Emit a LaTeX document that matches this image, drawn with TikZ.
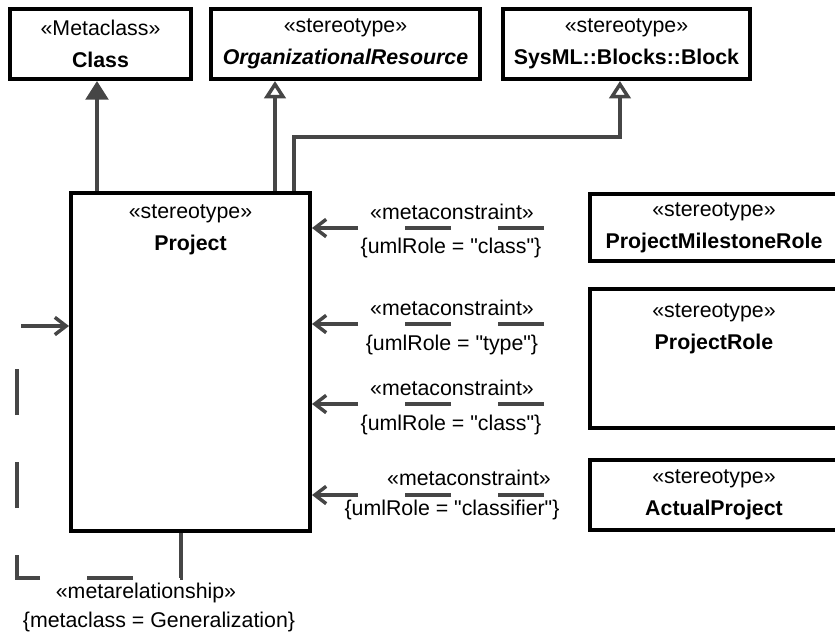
\documentclass[tikz,border=0pt]{standalone}
\usepackage{fontspec}
\setmainfont{Liberation Sans}[Ligatures=TeXOff]
\usetikzlibrary{arrows.meta}
\definecolor{linegray}{RGB}{70,70,70}

\begin{document}
\begin{tikzpicture}[x=0.75pt, y=-0.75pt,
    umlbox/.style={draw=black, line width=3pt, fill=white, inner sep=0pt,
      align=center, font=\fontsize{16}{24}\selectfont},
    toplabel/.style={anchor=north, inner sep=0pt, yshift=-10pt, align=center,
      font=\fontsize{16}{24}\selectfont},
    lbl/.style={inner sep=0pt, font=\fontsize{16}{19}\selectfont},
    extend/.style={draw=linegray, line width=2.6pt,
      -{Triangle[length=14pt, width=17pt]}},
    generalize/.style={draw=linegray, line width=2.6pt,
      -{Triangle[open, length=13pt, width=16pt, fill=white]}},
    constraint/.style={draw=linegray, line width=2.6pt,
      dash pattern=on 34.5pt off 35.25pt,
      -{Straight Barb[length=8.5pt, width=13pt]}}]
    %% 1 unit = 1 px of the 835 x 633 sheet, y runs downwards
    \clip (0,0) rectangle (835,633);

    % ---- METACLASS / STEREOTYPES (top row) ----
    \node[umlbox, minimum width=135.75pt, minimum height=52.5pt] (class)
      at (100.5, 44) {«Metaclass»\\\bfseries Class};
    \node[umlbox, minimum width=201.75pt, minimum height=52.5pt] (orgres)
      at (345.5, 44) {«stereotype»\\\bfseries\itshape OrganizationalResource};
    \node[umlbox, minimum width=185.25pt, minimum height=52.5pt] (block)
      at (626.5, 44) {«stereotype»\\\bfseries SysML::Blocks::Block};

    % ---- PROJECT ----
    \node[umlbox, minimum width=179.25pt, minimum height=253.5pt,
      label={[toplabel]north:{«stereotype»\\\bfseries Project}}] (project)
      at (190.5, 362) {};

    % ---- ROLES (right column) ----
    \node[umlbox, minimum width=186pt, minimum height=50.25pt] (milestone)
      at (714, 227.5) {«stereotype»\\\bfseries ProjectMilestoneRole};
    \node[umlbox, minimum width=186pt, minimum height=104.25pt,
      label={[toplabel, yshift=-2pt]north:{«stereotype»\\\bfseries ProjectRole}}] (role)
      at (714, 358.5) {};
    \node[umlbox, minimum width=186pt, minimum height=52.5pt] (actual)
      at (714, 495) {«stereotype»\\\bfseries ActualProject};

    % ---- extension + generalizations ----
    \draw[extend] (project.north -| 97,0) -- (97,0 |- class.south);
    \draw[generalize] (project.north -| 275,0) -- (275,0 |- orgres.south);
    \draw[generalize] (project.north -| 294,0) -- (294,137)
      -| ([xshift=-4.9pt]block.south);

    % ---- metaconstraints ----
    \coordinate (mc1) at (544,228);
    \coordinate (mc2) at (544,324);
    \coordinate (mc3) at (544,404);
    \coordinate (mc4) at (544,495);
    \draw[constraint] (mc1) -- (mc1 -| project.east);
    \draw[constraint] (mc2) -- (mc2 -| project.east);
    \draw[constraint] (mc3) -- (mc3 -| project.east);
    \draw[constraint] (mc4) -- (mc4 -| project.east);
    \node[lbl] (mc1st) at (452,212) {«metaconstraint»};
    \node[lbl] (mc1tv) at (451,248) {\{umlRole = "class"\}};
    \node[lbl] (mc2st) at (452,308) {«metaconstraint»};
    \node[lbl] (mc2tv) at (452,345) {\{umlRole = "type"\}};
    \node[lbl] (mc3st) at (452,388) {«metaconstraint»};
    \node[lbl] (mc3tv) at (451,425) {\{umlRole = "class"\}};
    \node[lbl] (mc4st) at (469,478) {«metaconstraint»};
    \node[lbl] (mc4tv) at (452,510) {\{umlRole = "classifier"\}};

    % ---- metarelationship (loop back onto Project) ----
    \draw[constraint] (project.south -| 181,0) -- (181,578) -- (17,578)
      -- (17,326) -- (project.west |- 0,326);
    \node[lbl] (mrst) at (146,593) {«metarelationship»};
    \node[lbl] (mrtv) at (159,622) {\{metaclass = Generalization\}};

  \end{tikzpicture}
\end{document}
